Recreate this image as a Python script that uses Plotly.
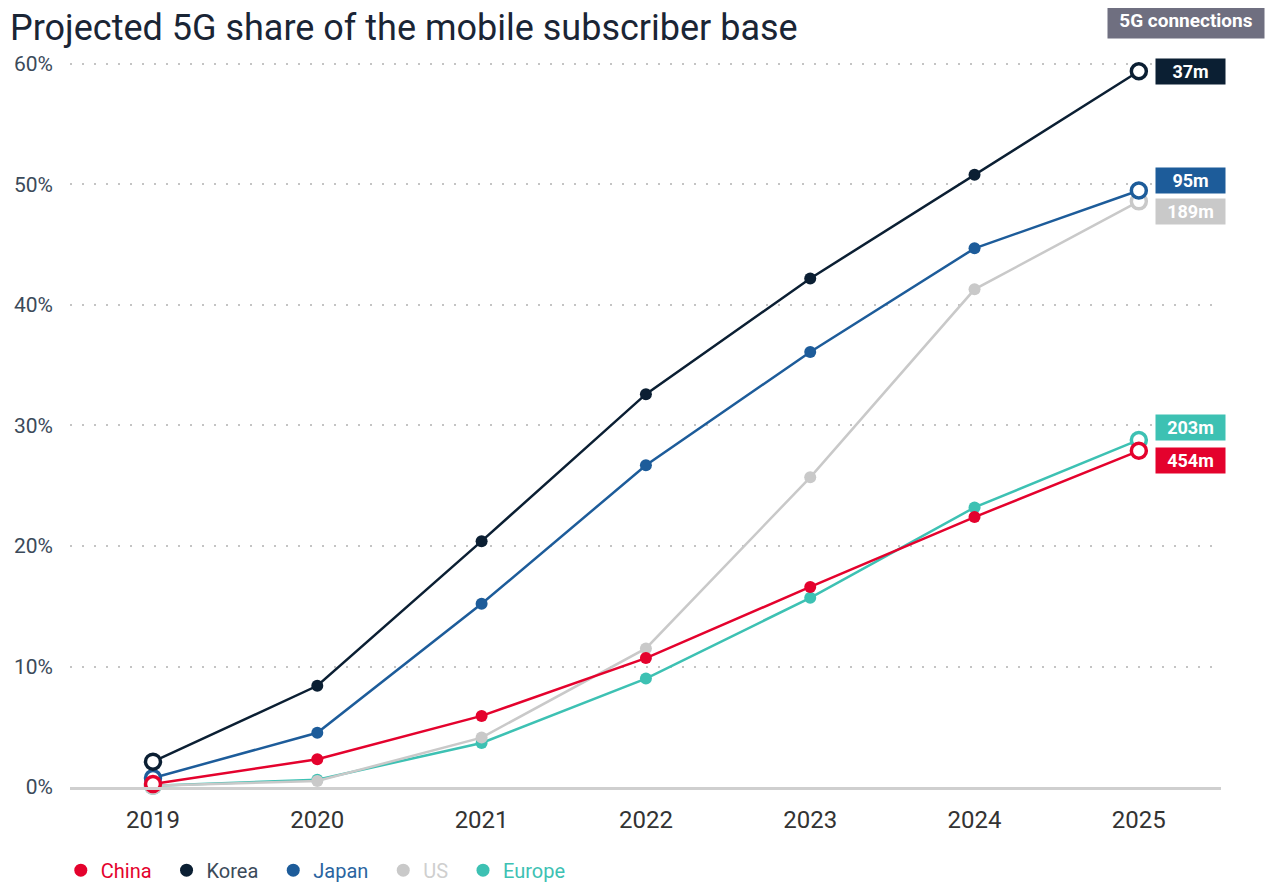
import plotly.graph_objects as go

years = [2019, 2020, 2021, 2022, 2023, 2024, 2025]

# share of subscriber base, %
china = [0.25, 2.3, 5.9, 10.7, 16.6, 22.4, 27.9]
korea = [2.1, 8.4, 20.4, 32.6, 42.2, 50.8, 59.4]
japan = [0.75, 4.5, 15.2, 26.7, 36.1, 44.7, 49.5]
us = [0.1, 0.5, 4.1, 11.5, 25.7, 41.3, 48.6]
europe = [0.1, 0.6, 3.65, 9.0, 15.7, 23.2, 28.8]

names = ['China', 'Korea', 'Japan', 'US', 'Europe']
connections = ['454m', '37m', '95m', '189m', '203m']
colors = {'China': '#e4022d', 'Korea': '#0b1f33', 'Japan': '#1d5c9a',
          'US': '#c9c9c9', 'Europe': '#3dc1b3'}
text_colors = {'China': '#e4022d', 'Korea': '#3b4a5a', 'Japan': '#2a64a0',
               'US': '#cfcfcf', 'Europe': '#3dc1b3'}
series = {'China': china, 'Korea': korea, 'Japan': japan, 'US': us, 'Europe': europe}

# label box nudges (px) so the end boxes don't overlap
yshift = {'China': -10, 'Korea': 0, 'Japan': 10, 'US': -10, 'Europe': 12}

FONT = 'Roboto'

fig = go.Figure()

# draw order: bottom to top
for name in ['Europe', 'US', 'Japan', 'Korea', 'China']:
    c = colors[name]
    n = len(years)
    fig.add_trace(go.Scatter(
        x=years, y=series[name], mode='lines+markers', showlegend=False,
        line=dict(color=c, width=2.5),
        marker=dict(
            size=[15] + [12] * (n - 2) + [15],
            color=['white'] + [c] * (n - 2) + ['white'],
            line=dict(color=c, width=[3.5] + [0] * (n - 2) + [3.5]),
            opacity=1,
        ),
        cliponaxis=False, hoverinfo='skip',
    ))

# legend-only dots
for name in names:
    fig.add_trace(go.Scatter(
        x=[None], y=[None], mode='markers',
        name=f"<span style='color:{text_colors[name]}'>{name}</span>&nbsp;&nbsp;",
        marker=dict(size=13, color=colors[name]),
    ))

for name, lab in zip(names, connections):
    fig.add_annotation(
        x=years[-1], y=series[name][-1], xref='x', yref='y',
        text=f'<b>{lab}</b>', showarrow=False, xanchor='left', yanchor='middle',
        xshift=16, yshift=yshift[name], width=69, height=25, borderpad=0,
        bgcolor=colors[name], font=dict(family=FONT, size=18, color='white'),
    )

fig.add_annotation(
    x=years[-1], y=1.0407, xref='x', yref='paper', text='<b>5G connections</b>',
    showarrow=False, xanchor='left', yanchor='middle', xshift=-32,
    width=156, height=35, borderpad=0, bgcolor='#6f6f80',
    font=dict(family=FONT, size=19, color='white'),
)

fig.add_annotation(
    x=-0.0539, y=1.057, xref='paper', yref='paper', xanchor='left', yanchor='top',
    yshift=3,
    text='Projected 5G share of the mobile subscriber base', showarrow=False,
    font=dict(family=FONT, size=36, color='#1a2535'),
)

# page body has an 8px margin, so the figure is 8px smaller and shifted
fig.update_layout(
    width=1267, height=878,
    margin=dict(l=62, r=54, t=42, b=99, autoexpand=False),
    plot_bgcolor='white', paper_bgcolor='white',
    font=dict(family=FONT),
    legend=dict(orientation='h', x=-0.008, y=0.018, xanchor='left', yanchor='middle',
                yref='container',
                font=dict(family=FONT, size=20), itemwidth=30, tracegroupgap=0),
    xaxis=dict(range=[2018.495, 2025.5], tickvals=years, showgrid=False,
               showline=True, linecolor='#cfcfcf', linewidth=3, zeroline=False,
               ticks='', tickfont=dict(size=24, color='#333333'), ticklabelstandoff=9,
               automargin=False),
    yaxis=dict(range=[0, 61.16], tickvals=[0, 10, 20, 30, 40, 50, 60],
               ticktext=['0%', '10%', '20%', '30%', '40%', '50%', '60%'],
               showgrid=True, gridcolor='#c4c4c4', gridwidth=2, griddash='2px,10px',
               zeroline=False, showline=False, ticks='',
               tickfont=dict(size=21, color='#3b4a5a'), ticklabelstandoff=16,
               automargin=False),
)

fig.write_html('out.html')
